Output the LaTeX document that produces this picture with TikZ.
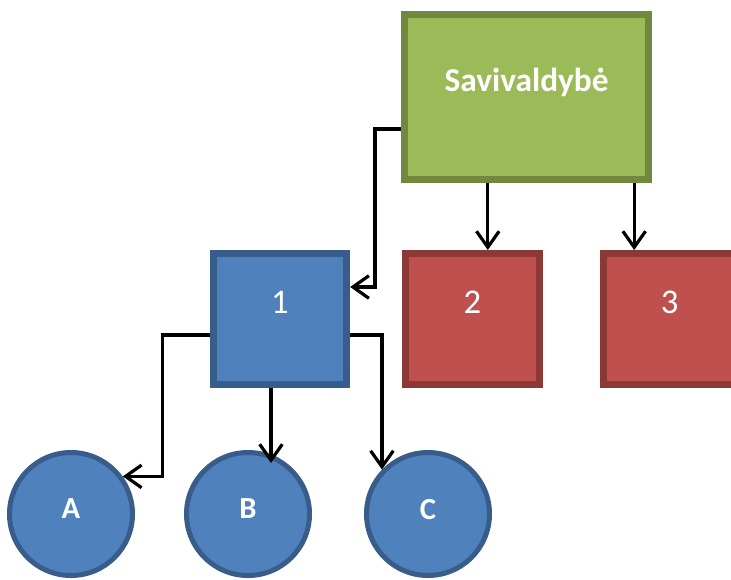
\documentclass[tikz,border=0pt]{standalone}
\usepackage{fontspec}
\setmainfont{Carlito}
\usepackage{tikz}
\usetikzlibrary{arrows.meta,positioning}
\definecolor{savfill}{HTML}{9BBB59}
\definecolor{savedge}{HTML}{71893F}
\definecolor{blufill}{HTML}{4F81BD}
\definecolor{bluedge}{HTML}{385D8A}
\definecolor{redfill}{HTML}{C0504D}
\definecolor{rededge}{HTML}{8C3836}
\tikzset{
    %Define standard arrow tip
    >={Straight Barb[length=12pt,width=17pt]},
    %Define style for boxes
    topbox/.style={
           rectangle,
           draw=savedge, line width=5.25pt,
           fill=savfill,
           minimum width=183pt,
           minimum height=123.75pt},
    unitbox/.style={
           rectangle,
           draw=bluedge, line width=5.25pt,
           fill=blufill,
           minimum width=100pt,
           minimum height=98.25pt},
    otherbox/.style={
           unitbox,
           draw=rededge,
           fill=redfill},
    leaf/.style={
           circle,
           draw=bluedge, line width=3.75pt,
           fill=blufill,
           minimum size=92.25pt,
           text depth=7.5pt,
           text=white,
           font=\fontsize{23}{28}\selectfont\bfseries},
    %Define style for texts in boxes
    boxtext/.style={
           text=white,
           yshift=12.75pt,
           font=\fontsize{26}{31}\selectfont},
    % Define arrow style
    pil/.style={
           ->,
           line width=2.4pt,
           black}
}
\begin{document}
\begin{tikzpicture}
\useasboundingbox (0,0) rectangle (548.25pt,-434.25pt);
 %boxes
\node[topbox, label={[boxtext, yshift=-1.5pt, font=\fontsize{25}{30}\selectfont\bfseries]center:Savivaldybė}] (sav) at (394.9pt,-72.75pt) {};
\node[unitbox, label={[boxtext]center:1}] (one) at (210pt,-239.25pt) {};
\node[otherbox, right=39pt of one, label={[boxtext]center:2}] (two) {};
\node[otherbox, right=42.75pt of two, label={[boxtext]center:3}] (three) {};
 %circles
\node[leaf] (a) at (53.25pt,-385.5pt) {A};
\node[leaf, right=36.75pt of a] (b) {B};
\node[leaf, right=39pt of b] (c) {C};
\coordinate (tw) at ([xshift=11.6pt]two.north);
\coordinate (th) at ([xshift=-26.6pt]three.north);
\coordinate (bin) at ([xshift=17.25pt,yshift=-9.75pt]b.north);
 %connectors
\draw[pil] ([yshift=-24pt]sav.west) -- ++(-19.5pt,0) |- ([yshift=24pt]one.east);
\draw[pil] (sav.south -| tw) -- (tw);
\draw[pil] (sav.south -| th) -- (th);
\draw[pil] ([yshift=-12pt]one.west) -- ++(-35.25pt,0) |- (a.36);
\draw[pil] (one.south -| bin) -- (bin);
\draw[pil] ([yshift=-12pt]one.east) -| (c.136);
\end{tikzpicture}
\end{document}
